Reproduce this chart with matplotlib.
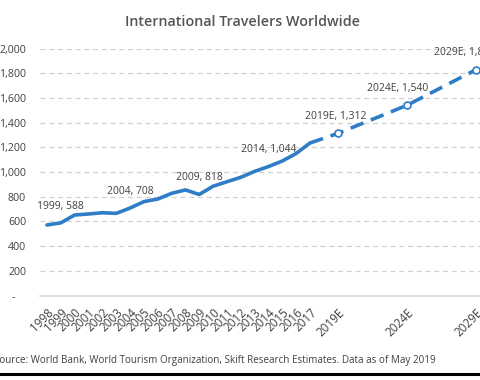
import matplotlib
matplotlib.use("Agg")
import matplotlib.pyplot as plt
from matplotlib.lines import Line2D
from matplotlib.transforms import ScaledTranslation

plt.rcParams["font.family"] = ["Open Sans", "DejaVu Sans"]

# actual years (solid line)
years = [str(y) for y in range(1998, 2018)]
travelers = [571, 588, 652, 660, 670, 665, 708, 760, 781, 827,
             855, 818, 885, 921, 957, 1005, 1044, 1089, 1150, 1235]

# estimates (dashed line), starting from the last actual point
est_labels = ["2017", "2019E", "2024E", "2029E"]
est_pos = [19, 21, 26, 31]
est_values = [1235, 1312, 1540, 1829]

# labelled points: (position, label)
callouts = [(1, "1999"), (6, "2004"), (11, "2009"), (16, "2014")]

blue = "#2E7DC6"
grey_txt = "#404040"

fig = plt.figure(figsize=(4.8, 3.8), dpi=100)
ax = fig.add_axes([40 / 480, 1 - 295.5 / 380, 450 / 480, 247 / 380])

x_actual = list(range(len(years)))
ax.plot(x_actual, travelers, color=blue, lw=2.6, solid_capstyle="round", zorder=3)
ax.plot(est_pos, est_values, color=blue, lw=2.6, dashes=(3.8, 2.2),
        marker="o", markevery=[1, 2, 3], markersize=5,
        markerfacecolor="white", markeredgecolor=blue, markeredgewidth=1.2,
        zorder=3, clip_on=False)

for i, lab in callouts:
    v = travelers[i]
    ax.annotate(f"{lab}, {v:,}", (i, v), xytext=(0, 12), textcoords="offset points",
                ha="center", va="center", fontsize=7.5, color=grey_txt)
# estimate labels sit a little left of their markers
for i, dx in zip(range(1, 4), [-1.5, -6.5, -8.5]):
    ax.annotate(f"{est_labels[i]}, {est_values[i]:,}", (est_pos[i], est_values[i]),
                xytext=(dx, 12), textcoords="offset points",
                ha="center", va="center", fontsize=7.5, color=grey_txt,
                annotation_clip=False)

ax.set_xlim(-0.5, 32)
ax.set_ylim(0, 2000)

yt = list(range(0, 2001, 200))
ax.set_yticks(yt)
ax.set_yticklabels(["-    "] + [f"{v:,}" for v in yt[1:]])
ax.set_xticks(x_actual + est_pos[1:])
ax.set_xticklabels(years + est_labels[1:], rotation=45, ha="right",
                   va="center", rotation_mode="anchor")
ax.tick_params(axis="y", length=0, labelsize=7.7, colors=grey_txt, pad=10)
ax.tick_params(axis="x", length=0, labelsize=8.4, colors=grey_txt, pad=11)
shift = ScaledTranslation(0.045, 0, fig.dpi_scale_trans)
for t in ax.get_xticklabels():
    t.set_transform(t.get_transform() + shift)

for v in yt[1:]:
    ax.axhline(v, color="#D0D0D0", lw=0.9, dashes=(4, 3), zorder=1)
for s in ["top", "right", "left"]:
    ax.spines[s].set_visible(False)
ax.spines["bottom"].set_color("#D9D9D9")
ax.spines["bottom"].set_linewidth(1.2)

fig.text(0.505, 1 - 22 / 380, "International Travelers Worldwide", ha="center",
         va="center", fontsize=10.3, fontweight="semibold", color="#555555")
fig.text(-6 / 480, 1 - 360 / 380,
         "Source: World Bank, World Tourism Organization, Skift Research Estimates. Data as of May 2019",
         ha="left", va="center", fontsize=7.15, color=grey_txt)
fig.add_artist(Line2D([0, 1], [1 - 373.5 / 380] * 2, color="black", lw=2.2,
                      transform=fig.transFigure))

fig.savefig("out.png", dpi=100)
